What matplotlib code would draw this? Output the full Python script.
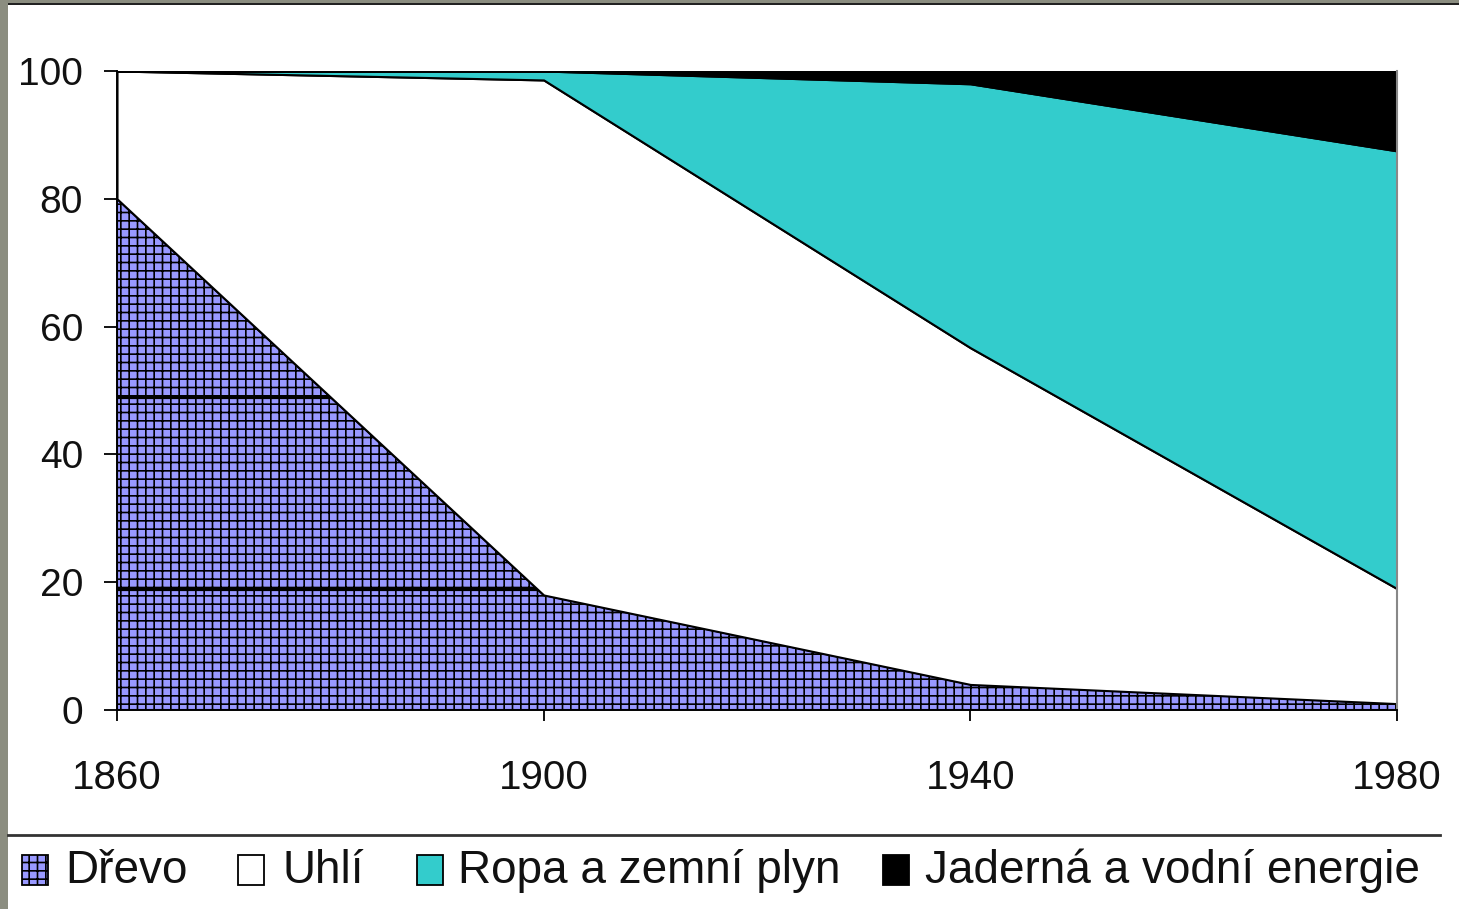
import matplotlib
matplotlib.use("Agg")
import matplotlib.pyplot as plt
from matplotlib.patches import Rectangle
from matplotlib.lines import Line2D
import numpy as np

plt.rcParams['font.family'] = ['Liberation Sans', 'DejaVu Sans']
plt.rcParams['hatch.linewidth'] = 1.2

# ---- data ----
years = [1860, 1900, 1940, 1980]
drevo = [80, 18, 4, 1]
uhli = [20, 80.6, 52.7, 18]
ropa = [0, 1.4, 41.3, 68.5]
jaderna = [0, 0, 2, 12.5]
labels = ["Dřevo", "Uhlí", "Ropa a zemní plyn", "Jaderná a vodní energie"]
colors = ["#9999ff", "#ffffff", "#33cccc", "#000000"]
hatches = ["++", None, None, None]
yticks = [0, 20, 40, 60, 80, 100]
xticks = [1860, 1900, 1940, 1980]
artifact_lines = [49, 19]

W, H = 1459, 909
fig = plt.figure(figsize=(W / 100, H / 100), dpi=100)
fig.patch.set_facecolor("white")

ax = fig.add_axes([117 / W, 1 - 710 / H, (1397 - 117) / W, (710 - 71) / H])
ax.set_facecolor("white")

series = [drevo, uhli, ropa, jaderna]
base = np.zeros(len(years))
polys = []
for s, c, h in zip(series, colors, hatches):
    top = base + np.array(s, dtype=float)
    p = ax.fill_between(years, base, top, facecolor=c, edgecolor="black",
                        hatch=h, linewidth=1.5, zorder=2)
    polys.append(p)
    base = top

# horizontal black lines visible inside the wood area
for v in artifact_lines:
    ln, = ax.plot([1860, 1980], [v, v], color="black", lw=2.3, zorder=3)
    ln.set_clip_path(polys[0].get_paths()[0], ax.transData)

ax.plot([1980, 1980], [0, 100], color="#888888", lw=1.5, zorder=4, clip_on=False)

ax.set_xlim(1860, 1980)
ax.set_ylim(0, 100)
ax.set_xticks(xticks)
ax.set_yticks(yticks)
ax.tick_params(axis="y", direction="out", length=9.5, width=1.4, pad=15,
               labelsize=28, colors="#111111")
ax.tick_params(axis="x", direction="out", length=8, width=1.4, pad=27,
               labelsize=29, colors="#111111")
for sp in ["top", "right"]:
    ax.spines[sp].set_visible(False)
for sp in ["left", "bottom"]:
    ax.spines[sp].set_linewidth(1.4)
    ax.spines[sp].set_color("black")
    ax.spines[sp].set_zorder(5)

# legend separator line
fig.add_artist(Line2D([8 / W, 1440 / W], [1 - 835 / H, 1 - 835 / H],
                      transform=fig.transFigure, color="#333333", lw=2))

# legend entries
entries = [(22, 65), (238, 282), (417, 458), (883, 925)]
for (px, tx), lab, c, h in zip(entries, labels, colors, hatches):
    fig.add_artist(Rectangle((px / W, 1 - 885 / H), 26 / W, 30 / H,
                             transform=fig.transFigure, facecolor=c,
                             edgecolor="black", hatch=h, lw=1.3))
    fig.text(tx / W, 1 - 883 / H, lab, fontsize=33, va="baseline",
             ha="left", color="#111111")

# outer frame
fig.add_artist(Rectangle((0, 0), 8 / W, 1, transform=fig.transFigure,
                         facecolor="#8b8d80", edgecolor="none"))
fig.add_artist(Rectangle((0, 1 - 3 / H), 1, 3 / H, transform=fig.transFigure,
                         facecolor="#8b8d80", edgecolor="none"))
fig.add_artist(Rectangle((8 / W, 1 - 5 / H), 1, 2 / H, transform=fig.transFigure,
                         facecolor="#222222", edgecolor="none"))

fig.savefig("out.png", dpi=100)
